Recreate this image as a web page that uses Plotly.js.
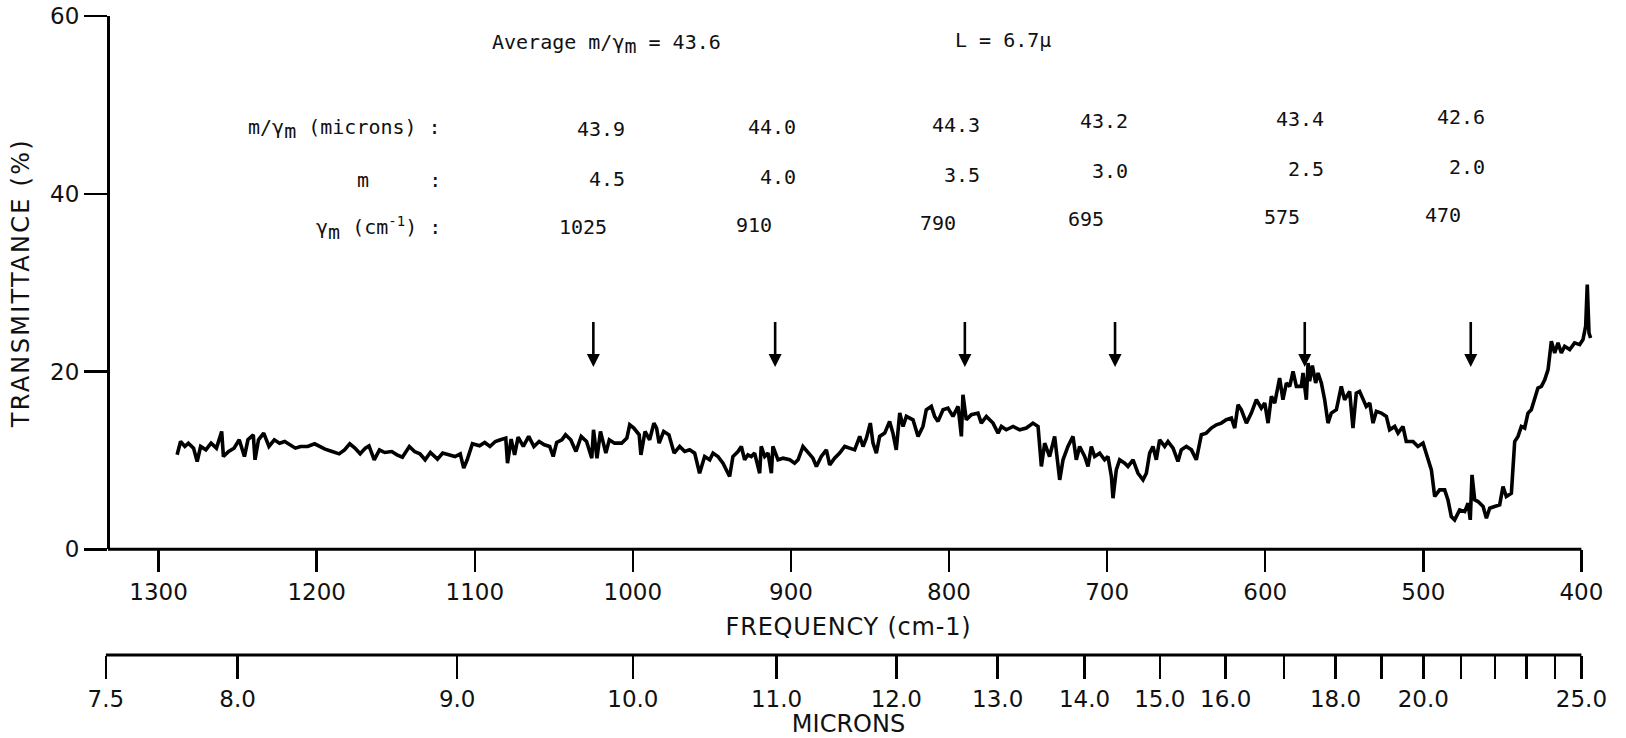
<!DOCTYPE html>
<html>
<head>
<meta charset="utf-8">
<script src="https://cdn.plot.ly/plotly-3.0.1.min.js"></script>
<style>
  html, body { margin: 0; padding: 0; background: #ffffff; }
  #chart { width: 1626px; height: 738px; }
  .ytitle { letter-spacing: 2.3px; }
  .xtitle { letter-spacing: 0.8px; }
</style>
</head>
<body>
<div id="chart"></div>
<script>
// ---------------- data ----------------
const wavenumber = [
  1288.3,1286.1,1283.4,1281.2,1277.9,1275.6,1273.4,1270.1,1266.8,1263.4,1260.1,1259.0,1255.7,1252.3,1249.0,1245.7,1243.5,1240.1,1239.0,1236.8,
  1233.5,1230.2,1226.8,1223.5,1220.2,1216.8,1213.5,1210.2,1205.7,1201.3,1198.0,1194.7,1190.2,1185.8,1182.4,1179.1,1175.8,1172.5,1169.2,1166.9,
  1163.6,1160.3,1157.0,1152.5,1149.2,1145.8,1141.4,1138.1,1134.7,1131.4,1128.1,1123.6,1120.3,1117.0,1112.5,1109.2,1107.0,1104.8,1101.5,1097.0,
  1093.7,1090.4,1087.0,1083.7,1080.4,1079.3,1077.0,1074.8,1072.6,1069.3,1065.9,1062.6,1059.3,1056.0,1052.6,1050.4,1048.2,1044.9,1042.6,1039.3,
  1036.0,1032.7,1029.3,1026.0,1024.9,1022.7,1020.5,1017.1,1014.9,1011.6,1007.1,1003.8,1002.0,999.4,996.0,994.9,992.3,989.4,986.7,985.0,
  983.4,980.5,977.2,973.9,
  970.4,967.2,964.1,960.9,957.8,954.6,951.4,949.3,946.2,943.0,938.8,936.7,933.5,931.4,929.3,927.2,925.1,923.0,919.8,918.8,
  916.6,914.5,912.4,911.4,908.2,905.0,900.8,897.7,895.5,892.4,889.2,886.1,883.9,880.8,877.6,875.5,872.4,869.2,866.0,862.9,
  859.7,856.5,854.4,852.3,849.8,848.1,846.0,843.9,840.7,837.6,835.5,833.4,831.2,829.1,827.0,822.8,819.6,816.5,814.4,811.2,
  809.1,807.0,803.8,800.7,797.5,794.3,792.2,791.2,789.1,785.9,781.7,779.6,776.4,772.2,769.0,766.9,763.8,759.5,755.3,751.1,
  746.9,743.7,741.6,739.5,736.4,733.2,730.0,727.9,724.8,721.6,719.5,717.4,714.2,712.1,710.0,707.9,704.7,701.6,699.5,697.3,
  696.3,694.2,692.1,688.9,686.8,683.6,680.5,677.3,675.2,
  673.1,671.0,668.9,666.8,663.6,661.5,658.3,655.2,653.1,649.9,646.7,643.6,640.4,637.3,634.1,630.9,627.8,624.6,621.4,619.3,
  617.2,615.1,611.9,608.8,605.6,602.5,600.3,598.2,596.1,594.0,590.9,588.8,586.6,584.5,582.4,580.3,577.2,576.1,574.0,572.9,
  571.9,570.2,568.1,566.6,564.5,562.4,560.3,558.2,555.0,551.9,549.8,546.6,544.5,542.4,540.3,538.2,536.1,533.9,531.8,529.7,
  526.6,523.4,521.3,518.1,516.0,512.9,510.8,506.5,503.4,500.2,498.1,494.9,492.8,489.7,486.5,484.4,482.3,480.2,477.0,473.8,
  471.7,470.3,469.2,467.5,465.4,462.2,460.1,458.0,454.9,451.7,449.6,447.5,444.3,442.2,440.1,438.0,435.9,433.8,431.7,429.6,
  427.5,425.3,423.2,421.1,419.0,416.9,414.8,412.7,410.6,407.4,404.3,401.1,399.0,397.3,396.3,395.2,394.2
];
const transmittance = [
  10.63,12.13,11.57,11.94,11.38,9.88,11.57,11.19,11.94,11.38,13.26,10.44,11.00,11.38,12.32,10.44,12.32,12.88,10.07,12.32,
  13.07,11.57,12.32,11.94,12.13,11.76,11.38,11.57,11.57,11.87,11.57,11.27,11.00,10.74,11.19,11.87,11.38,10.74,11.38,11.64,
  10.07,11.19,10.89,11.00,10.63,10.37,11.57,11.00,10.74,10.07,10.89,10.14,10.82,10.63,10.44,10.74,9.13,10.07,11.87,11.64,
  12.02,11.57,12.13,12.32,12.51,9.69,12.40,10.63,12.62,11.57,12.70,11.57,12.13,11.76,11.57,10.44,12.02,12.32,12.88,12.32,
  11.00,12.70,12.13,10.25,13.45,10.25,13.26,10.82,12.32,11.94,11.94,12.51,14.01,13.64,12.88,10.63,13.26,12.32,14.20,13.64,
  11.94,13.26,12.88,10.82,
  11.57,11.00,11.19,10.82,8.56,10.44,10.07,10.82,10.44,9.69,8.19,10.44,11.00,11.57,10.07,10.63,10.44,10.82,8.56,11.57,
  10.44,10.82,8.56,11.57,10.07,10.25,10.07,9.69,10.07,11.57,10.82,10.25,9.32,10.44,11.19,9.50,10.25,10.82,11.57,11.38,
  11.19,12.70,11.57,12.51,14.20,11.94,10.82,12.70,13.07,14.39,13.07,11.19,15.33,13.82,14.95,14.57,12.70,13.82,15.70,16.08,
  14.95,14.39,15.70,15.89,14.95,16.08,12.70,17.39,14.57,15.14,15.33,14.20,14.95,14.20,13.07,13.82,13.45,13.82,13.45,13.64,
  14.20,13.82,9.32,11.94,10.44,12.70,7.81,10.07,11.57,12.70,10.07,11.57,10.44,9.32,11.57,10.44,10.82,10.07,10.44,8.19,
  5.75,8.94,10.07,9.69,9.32,10.07,8.56,7.81,8.56,
  10.82,11.57,10.07,12.32,11.57,12.13,11.38,9.88,11.19,11.57,11.19,10.07,12.89,13.07,13.64,14.01,14.20,14.58,14.76,13.64,
  16.27,15.70,14.20,15.33,16.83,15.89,16.45,14.20,17.21,16.45,19.27,16.83,18.71,18.33,20.02,18.33,18.33,19.84,16.83,20.96,
  18.90,20.66,18.71,19.84,18.71,16.83,14.20,15.33,15.70,18.33,16.83,17.77,13.64,17.58,17.77,16.83,16.08,16.45,14.20,15.52,
  15.33,14.95,13.45,13.82,13.07,13.82,12.13,12.13,11.57,11.95,10.82,8.94,5.94,6.69,6.69,5.56,3.68,3.31,4.43,4.24,
  5.18,3.31,8.38,5.56,5.37,4.81,3.49,4.62,4.81,5.00,7.06,5.94,6.31,12.13,12.70,13.82,13.64,15.33,15.70,16.83,
  18.14,18.33,19.08,20.21,23.41,22.09,23.22,22.09,22.84,22.47,23.22,23.03,23.59,25.10,29.79,24.34,23.78
];
const frequencyTicks = [1300, 1200, 1100, 1000, 900, 800, 700, 600, 500, 400];
const transmittanceTicks = [0, 20, 40, 60];
const micronLabelled = [7.5, 8, 9, 10, 11, 12, 13, 14, 15, 16, 18, 20, 25];
const micronLabels = ['7.5','8.0','9.0','10.0','11.0','12.0','13.0','14.0','15.0','16.0','18.0','20.0','25.0'];
const micronUnlabelled = [17, 19, 21, 22, 23, 24];
const gammaM = [1025, 910, 790, 695, 575, 470];
const mOverGamma = ['43.9', '44.0', '44.3', '43.2', '43.4', '42.6'];
const mValues = ['4.5', '4.0', '3.5', '3.0', '2.5', '2.0'];
const averageRatio = '43.6';
const filmThickness = '6.7';

// ---------------- layout geometry (pixels) ----------------
const W = 1626, H = 738;
const yAxisPx = 108, plotLeftPx = 104, plotRightPx = 1593;
const tick1300Px = 158.6, pxPerUnit = 1.5809;
const mT = 16, mB = 83, yZeroPx = 549.3;
const mL = plotLeftPx, mR = W - plotRightPx;
const paperW = W - mL - mR, paperH = H - mT - mB;
const yDomainBottom = (H - mB - yZeroPx) / paperH;
const yRange = [0, 60];

function wAtPx(px) { return 1300 - (px - tick1300Px) / pxPerUnit; }
function pxAtW(w) { return tick1300Px + (1300 - w) * pxPerUnit; }
function paperX(px) { return (px - mL) / paperW; }
function tAtPx(py) { return yRange[1] * (yZeroPx - py) / (yZeroPx - mT); }

const xRange = [wAtPx(plotLeftPx), wAtPx(plotRightPx)];

const tickFont = { family: 'DejaVu Sans, sans-serif', size: 23, color: '#111' };
const titleFont = { family: 'DejaVu Sans, sans-serif', size: 24, color: '#111' };
const typeFont = { family: 'DejaVu Sans Mono, monospace', size: 20, color: '#111' };
const fullSub = s => '<sub><span style="font-size:20px">' + s + '</span></sub>';

// arrows marking each gamma_m (shaft + head), positioned through the axes
const arrowTailT = tAtPx(322), arrowShaftEndT = tAtPx(356), arrowTipT = tAtPx(367);

const traces = [
  {
    x: wavenumber, y: transmittance, type: 'scatter', mode: 'lines',
    line: { color: '#000', width: 3.6 }, hoverinfo: 'skip', showlegend: false
  },
  {
    x: gammaM.flatMap(g => [g, g, null]),
    y: gammaM.flatMap(() => [arrowTailT, arrowShaftEndT, null]),
    type: 'scatter', mode: 'lines', line: { color: '#000', width: 2.6 },
    hoverinfo: 'skip', showlegend: false
  },
  {
    x: gammaM, y: gammaM.map(() => arrowTipT), type: 'scatter', mode: 'markers',
    marker: { symbol: 'arrow-down', size: 13, color: '#000', line: { width: 0 } },
    hoverinfo: 'skip', showlegend: false
  },
  {
    x: micronLabelled.map(m => 10000 / m), y: micronLabelled.map(() => null),
    xaxis: 'x2', yaxis: 'y', type: 'scatter', mode: 'markers',
    marker: { opacity: 0 }, hoverinfo: 'skip', showlegend: false
  }
];

// typed table layout (pixel tweaks of the typewritten page)
const rowBasePx = { ratio: 122.75, m: 173.25, gamma: 221.3 };
const rowShiftPx = { ratio: -6, m: 0, gamma: -24 };
const columnShiftPx = [14, 3, -3, -5, 1, -4];
const columnTiltPx = [6, 4, 2, -2, -4, -6];

const annotations = [];
annotations.push({
  xref: 'x', yref: 'y', x: wAtPx(606), y: tAtPx(44), xanchor: 'center', yanchor: 'middle',
  text: 'Average m/γ' + fullSub('m') + ' = ' + averageRatio, showarrow: false, font: typeFont
});
annotations.push({
  xref: 'x', yref: 'y', x: wAtPx(1003), y: tAtPx(40), xanchor: 'center', yanchor: 'middle',
  text: 'L = ' + filmThickness + 'µ', showarrow: false, font: typeFont
});
const labelRight = wAtPx(443);
annotations.push({ xref: 'x', yref: 'y', x: labelRight, y: tAtPx(129), xanchor: 'right', yanchor: 'middle',
  text: 'm/γ' + fullSub('m') + ' (microns) :', showarrow: false, font: typeFont });
annotations.push({ xref: 'x', yref: 'y', x: labelRight, y: tAtPx(180), xanchor: 'right', yanchor: 'middle',
  text: 'm\u00a0\u00a0\u00a0\u00a0\u00a0:', showarrow: false, font: typeFont });
annotations.push({ xref: 'x', yref: 'y', x: labelRight, y: tAtPx(228), xanchor: 'right', yanchor: 'middle',
  text: 'γ' + fullSub('m') + ' (cm<sup>-1</sup>) :', showarrow: false, font: typeFont });

gammaM.forEach((g, i) => {
  const rows = [['ratio', mOverGamma[i]], ['m', mValues[i]], ['gamma', String(g)]];
  rows.forEach(([key, txt]) => {
    annotations.push({
      xref: 'x', yref: 'y', x: g, y: tAtPx(rowBasePx[key]),
      xshift: rowShiftPx[key] + columnShiftPx[i], yshift: -columnTiltPx[i],
      xanchor: 'center', yanchor: 'middle', text: txt, showarrow: false, font: typeFont
    });
  });
});

const shapes = [
  { type: 'line', xref: 'paper', yref: 'paper', x0: paperX(yAxisPx), x1: paperX(pxAtW(400)),
    y0: yDomainBottom, y1: yDomainBottom, line: { color: '#000', width: 3 } },
  { type: 'line', xref: 'paper', yref: 'paper', x0: paperX(pxAtW(10000 / 7.5)), x1: paperX(pxAtW(400)),
    y0: 0, y1: 0, line: { color: '#000', width: 3 } }
];

const layout = {
  width: W, height: H,
  margin: { l: mL, r: mR, t: mT, b: mB, pad: 0 },
  paper_bgcolor: '#fff', plot_bgcolor: 'rgba(0,0,0,0)',
  showlegend: false,
  font: tickFont,
  xaxis: {
    range: xRange, domain: [0, 1], anchor: 'y',
    tickmode: 'array', tickvals: frequencyTicks, ticktext: frequencyTicks.map(String),
    ticks: 'outside', ticklen: 22, tickwidth: 2.5, tickcolor: '#000',
    showline: false, showgrid: false, zeroline: false, tickfont: tickFont,
    title: { text: 'FREQUENCY (cm-1)', font: titleFont, standoff: 14 }
  },
  xaxis2: {
    range: xRange, overlaying: 'x', anchor: 'free', position: 0, side: 'bottom',
    tickmode: 'array', tickvals: micronLabelled.map(m => 10000 / m), ticktext: micronLabels,
    ticks: 'outside', ticklen: 23, tickwidth: 2.5, tickcolor: '#000',
    minor: { tickmode: 'array', tickvals: micronUnlabelled.map(m => 10000 / m),
             ticks: 'outside', ticklen: 23, tickwidth: 2.5, tickcolor: '#000', showgrid: false },
    showline: false, showgrid: false, zeroline: false, tickfont: tickFont,
    ticklabelstandoff: 0,
    title: { text: 'MICRONS', font: titleFont, standoff: 7 }
  },
  yaxis: {
    range: yRange, domain: [yDomainBottom, 1], anchor: 'free', position: paperX(yAxisPx),
    tickmode: 'array', tickvals: transmittanceTicks,
    ticks: 'outside', ticklen: 23, tickwidth: 2.5, tickcolor: '#000',
    showline: true, linewidth: 3, linecolor: '#000',
    showgrid: false, zeroline: false, tickfont: tickFont,
    title: { text: 'TRANSMITTANCE (%)', font: titleFont, standoff: 12 }
  },
  annotations: annotations,
  shapes: shapes
};

Plotly.newPlot('chart', traces, layout, { displayModeBar: false, staticPlot: true });
</script>
</body>
</html>
